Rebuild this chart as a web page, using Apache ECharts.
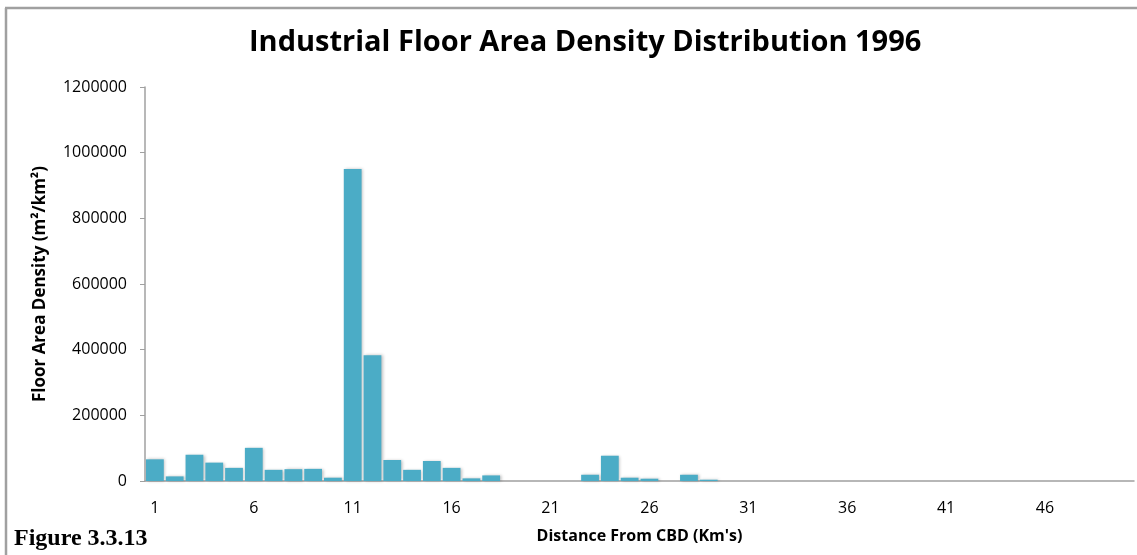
<!DOCTYPE html>
<html>
<head>
<meta charset="utf-8">
<script src="https://cdn.jsdelivr.net/npm/echarts@6/dist/echarts.min.js"></script>
<style>
  html, body { margin: 0; padding: 0; background: #fff; }
  #chart { width: 1137px; height: 555px; }
</style>
</head>
<body>
<div id="chart"></div>
<script>
// distance from CBD, 1..50 km
const distances = [];
for (let k = 1; k <= 50; k++) distances.push(String(k));

// floor area density (m2/km2)
const density = [
  66000, 14000, 80000, 56000, 40000, 101000, 34000, 36000, 37000, 10000,
  950000, 383000, 64000, 34000, 61000, 40000, 8000, 17000, 0, 0,
  0, 0, 19000, 77000, 10000, 7000, 0, 19000, 4000, 0,
  0, 0, 0, 0, 0, 0, 0, 0, 0, 0,
  0, 0, 0, 0, 0, 0, 0, 0, 0, 0
];

const titleText = 'Industrial Floor Area Density Distribution 1996';
const font = '"Open Sans", "Noto Sans", sans-serif';

let chart = echarts.init(document.getElementById('chart'));
chart.setOption({
  animation: false,
  title: {
    text: titleText,
    left: 244,
    top: 23,
    textStyle: { fontFamily: font, fontSize: 29, fontWeight: 'bold', color: '#000' }
  },
  grid: { left: 145, right: 3, top: 87, bottom: 74 },
  xAxis: {
    type: 'category',
    data: distances,
    name: 'Distance From CBD (Km\'s)',
    nameLocation: 'middle',
    nameGap: 47,
    nameTextStyle: { fontFamily: font, fontSize: 16, fontWeight: 'bold', color: '#000' },
    axisLine: { lineStyle: { color: '#a0a0a0', width: 1.5 } },
    axisTick: { show: false },
    axisLabel: { interval: 4, margin: 19, fontFamily: font, fontSize: 16, color: '#000' }
  },
  yAxis: {
    type: 'value',
    min: 0,
    max: 1200000,
    interval: 200000,
    name: 'Floor Area Density (m²/km²)',
    nameLocation: 'middle',
    nameGap: 96,
    nameTextStyle: { fontFamily: font, fontSize: 17, fontWeight: 'bold', color: '#000' },
    axisLine: { show: true, lineStyle: { color: '#a0a0a0', width: 1.5 } },
    axisTick: { show: true, length: 5, lineStyle: { color: '#a0a0a0' } },
    splitLine: { show: false },
    axisLabel: {
      margin: 18,
      fontFamily: font,
      fontSize: 16,
      color: '#000',
      formatter: v => String(v)
    }
  },
  series: [{
    type: 'bar',
    data: density,
    barCategoryGap: '10%',
    itemStyle: {
      color: '#4bacc6',
      shadowColor: 'rgba(0,0,0,0.25)',
      shadowBlur: 3,
      shadowOffsetX: 1.5,
      shadowOffsetY: 0
    }
  }],
  graphic: [
    { type: 'line', shape: { x1: 5, y1: 8, x2: 1137, y2: 8 },
      style: { stroke: '#a0a0a0', lineWidth: 2.5 } },
    { type: 'line', shape: { x1: 6, y1: 8, x2: 6, y2: 555 },
      style: { stroke: '#a0a0a0', lineWidth: 2.5 } },
    { type: 'text', left: 14, top: 527,
      style: { text: 'Figure 3.3.13', font: 'bold 24px "Liberation Serif", "DejaVu Serif", serif', fill: '#000' } }
  ]
});
</script>
</body>
</html>
